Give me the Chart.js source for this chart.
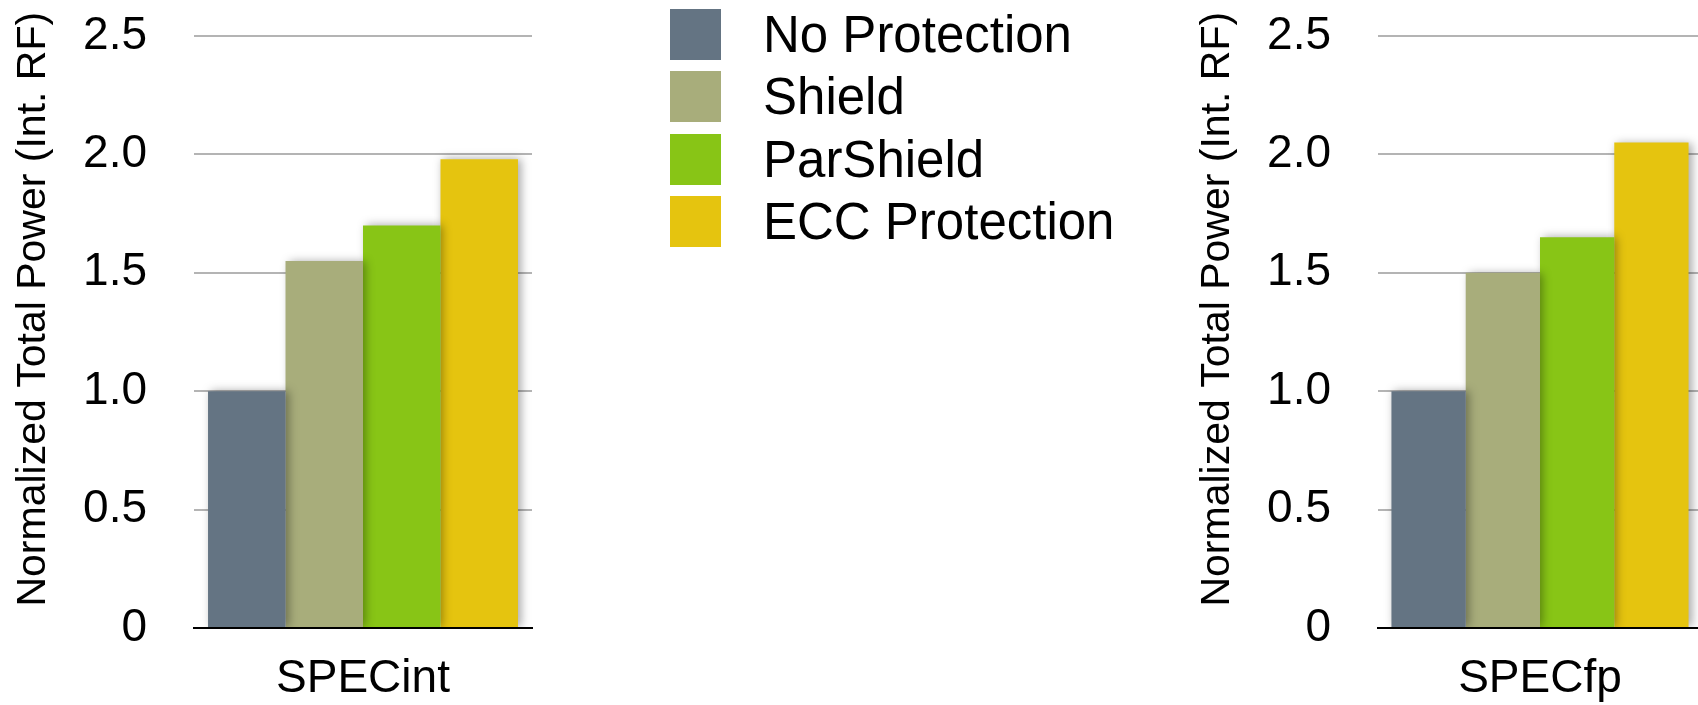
<!DOCTYPE html>
<html>
<head>
<meta charset="utf-8">
<script src="https://cdn.jsdelivr.net/npm/chart.js@4.4.0/dist/chart.umd.min.js"></script>
<style>
  html, body { margin: 0; padding: 0; background: #fff; overflow: hidden; width: 1698px; height: 705px; }
  canvas { position: absolute; top: 0; }
  #legend { position: absolute; left: 670px; top: 9px; font-family: "Liberation Sans", Arial, sans-serif; font-size: 51px; color: #000; }
  .row { display: flex; align-items: center; height: 51px; margin-bottom: 11.3px; }
  .sw { width: 51px; height: 51px; margin-right: 42px; }
</style>
</head>
<body>
<canvas id="intChart" width="546" height="705" style="left:0px"></canvas>
<div id="legend"></div>
<canvas id="fpChart" width="532" height="705" style="left:1184px"></canvas>
<script>
// data
var seriesNames = ["No Protection", "Shield", "ParShield", "ECC Protection"];
var seriesColors = ["#647483", "#a8ad7b", "#88c516", "#e5c40f"];
var specIntValues = [1.0, 1.55, 1.70, 1.98];
var specFpValues = [1.0, 1.50, 1.65, 2.05];
var yTicks = [0, 0.5, 1.0, 1.5, 2.0, 2.5];
var yTitle = "Normalized Total Power (Int. RF)";

var FONT = '"Liberation Sans", Arial, sans-serif';

// soft shadow on the bars, like the original
var barShadow = {
  id: 'barShadow',
  beforeDatasetsDraw: function(chart) {
    var c = chart.ctx;
    c.save();
    c.shadowColor = 'rgba(0,0,0,0.35)';
    c.shadowBlur = 9;
    c.shadowOffsetX = 3;
    c.shadowOffsetY = 0;
  },
  afterDatasetsDraw: function(chart) {
    chart.ctx.restore();
  }
};

function makeChart(id, category, values) {
  var datasets = seriesNames.map(function(name, i) {
    return {
      label: name,
      data: [values[i]],
      backgroundColor: seriesColors[i],
      borderWidth: 0,
      barPercentage: 1.0,
      categoryPercentage: 0.917
    };
  });
  return new Chart(document.getElementById(id), {
    type: 'bar',
    data: { labels: [category], datasets: datasets },
    plugins: [barShadow],
    options: {
      responsive: false,
      animation: false,
      layout: { padding: { left: 0, top: 36, right: 14, bottom: 0 } },
      plugins: { legend: { display: false }, tooltip: { enabled: false } },
      scales: {
        x: {
          grid: { display: false, drawTicks: false },
          border: { display: true, color: '#000', width: 2 },
          ticks: { color: '#000', padding: 24, font: { family: FONT, size: 46 } },
          afterFit: function(s) { s.height = 77; }
        },
        y: {
          min: 0,
          max: yTicks[yTicks.length - 1],
          afterBuildTicks: function(s) {
            s.ticks = yTicks.map(function(v) { return { value: v }; });
          },
          grid: {
            drawTicks: false,
            lineWidth: 2,
            color: function(ctx) { return ctx.tick && ctx.tick.value === 0 ? '#000' : '#b4b4b4'; }
          },
          border: { display: false },
          ticks: {
            color: '#000',
            padding: 47,
            font: { family: FONT, size: 46 },
            callback: function(v) { return v === 0 ? '0' : v.toFixed(1); }
          },
          title: {
            display: true,
            text: '    ' + yTitle,
            color: '#000',
            padding: { top: 9, bottom: 0 },
            font: { family: FONT, size: 41 }
          },
          afterFit: function(s) {
            s.width = 194;
            s.paddingTop = 0;
            s.paddingBottom = 0;
          }
        }
      }
    }
  });
}

makeChart('intChart', 'SPECint', specIntValues);
makeChart('fpChart', 'SPECfp', specFpValues);

// legend built from the same series arrays
var legend = document.getElementById('legend');
seriesNames.forEach(function(name, i) {
  var row = document.createElement('div');
  row.className = 'row';
  var sw = document.createElement('div');
  sw.className = 'sw';
  sw.style.background = seriesColors[i];
  var label = document.createElement('span');
  label.textContent = name;
  row.appendChild(sw);
  row.appendChild(label);
  legend.appendChild(row);
});
</script>
</body>
</html>
